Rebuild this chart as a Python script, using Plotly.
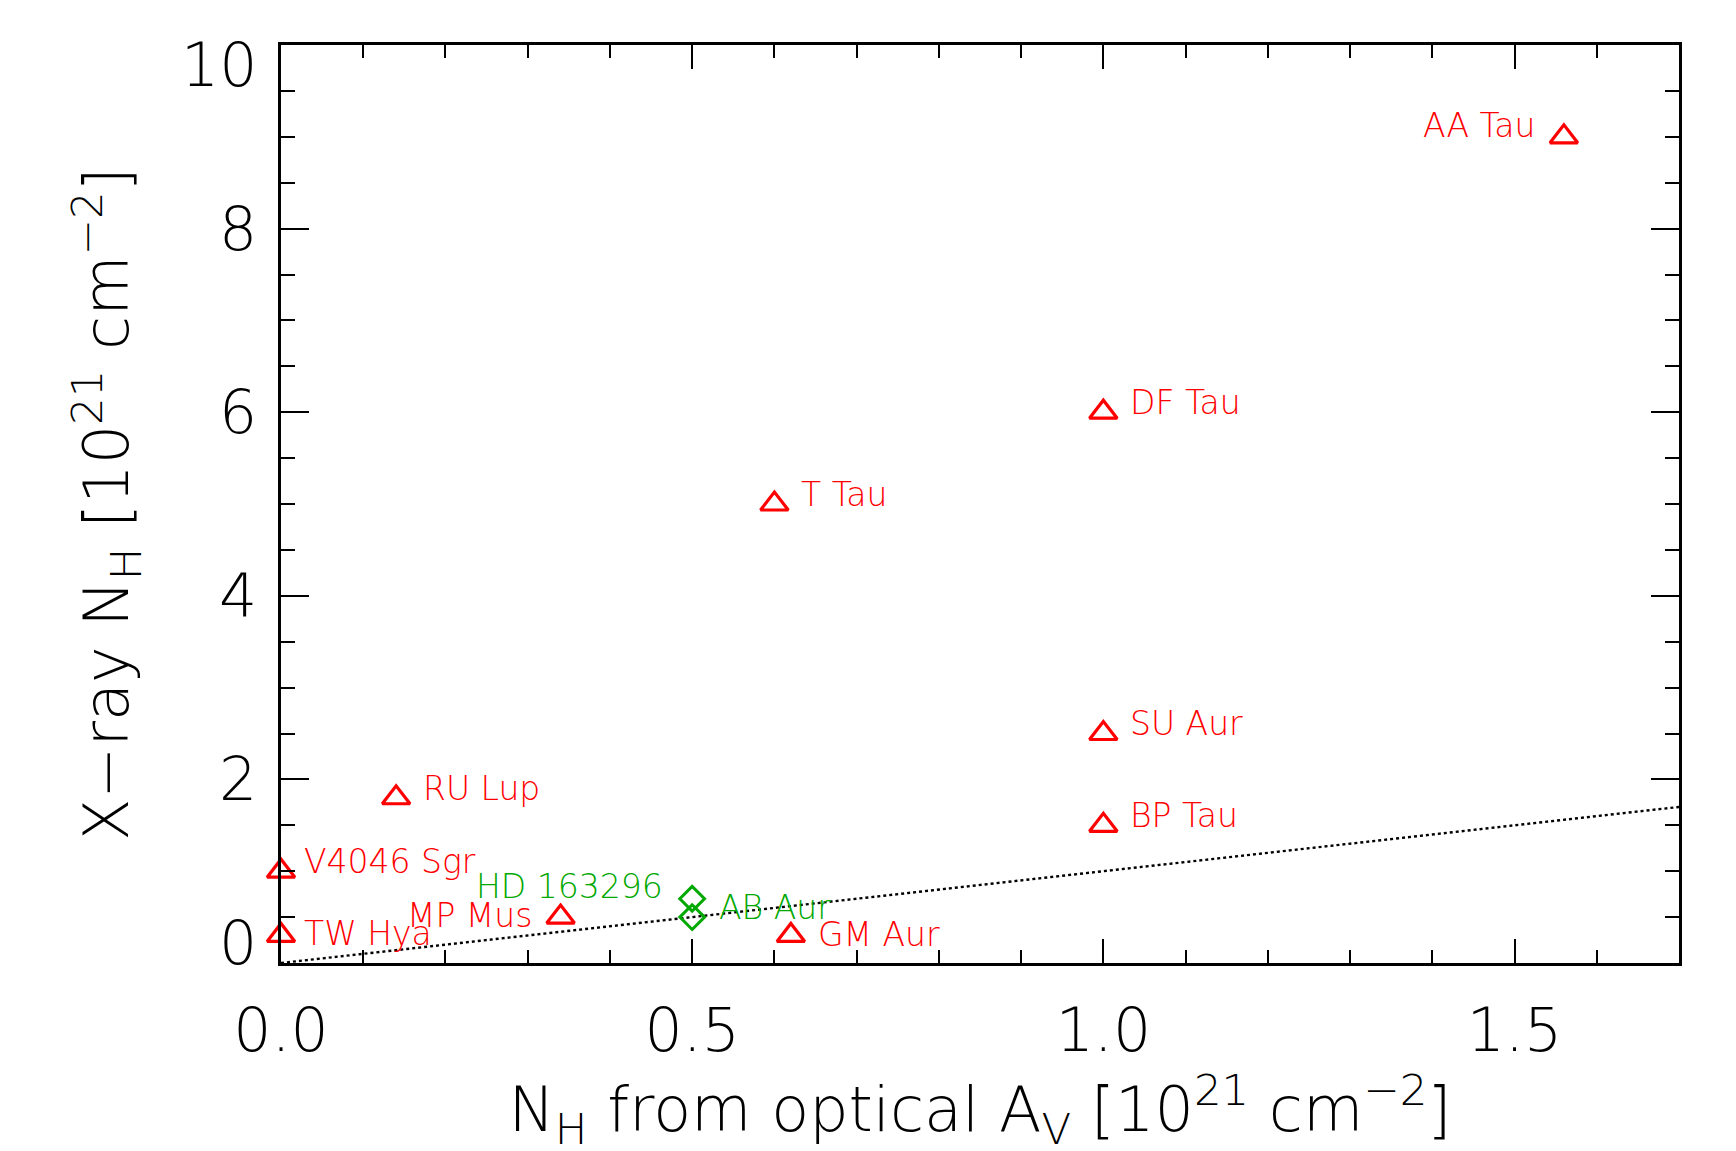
import plotly.graph_objects as go

# ---- data ----
ttauri_names = ["AA Tau", "DF Tau", "T Tau", "SU Aur", "BP Tau", "RU Lup",
                "V4046 Sgr", "TW Hya", "MP Mus", "GM Aur"]
ttauri_nh_opt = [1.56, 1.0, 0.6, 1.0, 1.0, 0.14, 0.0, 0.0, 0.34, 0.62]
ttauri_nh_x = [9.0, 6.0, 5.0, 2.5, 1.5, 1.8, 1.0, 0.3, 0.5, 0.3]

herbig_names = ["HD 163296", "AB Aur"]
herbig_nh_opt = [0.5, 0.5]
herbig_nh_x = [0.7, 0.5]

line_x = [0.0, 1.7]
line_y = [0.0, 1.7]

x_ticks = [0.0, 0.5, 1.0, 1.5]
x_ticklabels = ["0.0", "0.5", "1.0", "1.5"]
y_ticks = [0, 2, 4, 6, 8, 10]
y_ticklabels = ["0", "2", "4", "6", "8", "10"]

x_title = "N<sub>H</sub> from optical A<sub>V</sub> [10<sup>21</sup> cm<sup>−2</sup>]"
y_title = "X−ray N<sub>H</sub> [10<sup>21</sup> cm<sup>−2</sup>]"

# label placement (style): side and pixel shifts
label_place = {
    "AA Tau": ("right", -27, 11), "DF Tau": ("left", 25, 10), "T Tau": ("left", 25, 10),
    "SU Aur": ("left", 25, 10), "BP Tau": ("left", 25, 10), "RU Lup": ("left", 25, 9),
    "V4046 Sgr": ("left", 21, 10), "TW Hya": ("left", 21, 2), "MP Mus": ("right", -27, 2),
    "GM Aur": ("left", 25, 1), "HD 163296": ("right", -27, 12), "AB Aur": ("left", 25, 10),
}

RED = "#ff0000"
GREEN = "#00a800"
FONT = "DejaVu Sans"
W = 200
Y_MIN, Y_MAX = 0, 10

fig = go.Figure()
fig.add_trace(go.Scatter(x=line_x, y=line_y, mode="lines",
                         line=dict(color="black", width=2.4, dash="dot"),
                         showlegend=False, hoverinfo="skip"))
fig.add_trace(go.Scatter(x=ttauri_nh_opt, y=ttauri_nh_x, mode="markers",
                         marker=dict(symbol="triangle-up-open", size=24, color=RED,
                                     line=dict(width=3.2, color=RED)),
                         showlegend=False, cliponaxis=False))
fig.add_trace(go.Scatter(x=herbig_nh_opt, y=herbig_nh_x, mode="markers",
                         marker=dict(symbol="diamond-open", size=19, color=GREEN,
                                     line=dict(width=3, color=GREEN)),
                         showlegend=False, cliponaxis=False))

def add_labels(names, xs, ys, color):
    for n, xv, yv in zip(names, xs, ys):
        side, dx, dy = label_place[n]
        fig.add_annotation(x=xv, y=yv, text=n, showarrow=False,
                           xanchor="left" if side == "left" else "right",
                           yanchor="middle", xshift=dx, yshift=dy,
                           font=dict(family=FONT, size=33, color=color, weight=W))

add_labels(ttauri_names, ttauri_nh_opt, ttauri_nh_x, RED)
add_labels(herbig_names, herbig_nh_opt, herbig_nh_x, GREEN)

# y tick labels (IDL style: end labels kept inside the axis span)
for v, t in zip(y_ticks, y_ticklabels):
    ys = -20 if v == Y_MAX else (20 if v == Y_MIN else 0)
    fig.add_annotation(xref="paper", x=0, y=v, text=t, showarrow=False,
                       xanchor="right", yanchor="middle", xshift=-22, yshift=ys,
                       font=dict(family=FONT, size=60, color="black", weight=W))

# y axis title
fig.add_annotation(xref="paper", yref="paper", x=0, y=0.5, text=y_title, showarrow=False,
                   textangle=-90, xanchor="center", yanchor="middle", xshift=-175,
                   font=dict(family=FONT, size=62, color="black", weight=W))

axis_common = dict(showline=True, linecolor="black", linewidth=2.5, mirror="allticks",
                   ticks="inside", tickcolor="black", tickwidth=2, showgrid=False,
                   zeroline=False,
                   tickfont=dict(family=FONT, size=60, color="black", weight=W))

fig.update_xaxes(range=[0, 1.7], tickvals=x_ticks, ticktext=x_ticklabels, ticklen=24,
                 minor=dict(dtick=0.1, tick0=0, ticks="inside", ticklen=13, tickwidth=2,
                            tickcolor="black", showgrid=False),
                 ticklabelstandoff=13,
                 title=dict(text=x_title,
                            font=dict(family=FONT, size=62, color="black", weight=W),
                            standoff=14),
                 **axis_common)
fig.update_yaxes(range=[Y_MIN, Y_MAX], tickvals=y_ticks, showticklabels=False, ticklen=28,
                 minor=dict(dtick=0.5, tick0=0, ticks="inside", ticklen=14, tickwidth=2,
                            tickcolor="black", showgrid=False),
                 **axis_common)

fig.update_layout(width=1736, height=1151, plot_bgcolor="white", paper_bgcolor="white",
                  margin=dict(l=273, r=65, t=37, b=196), showlegend=False)

fig.write_html("out.html")
